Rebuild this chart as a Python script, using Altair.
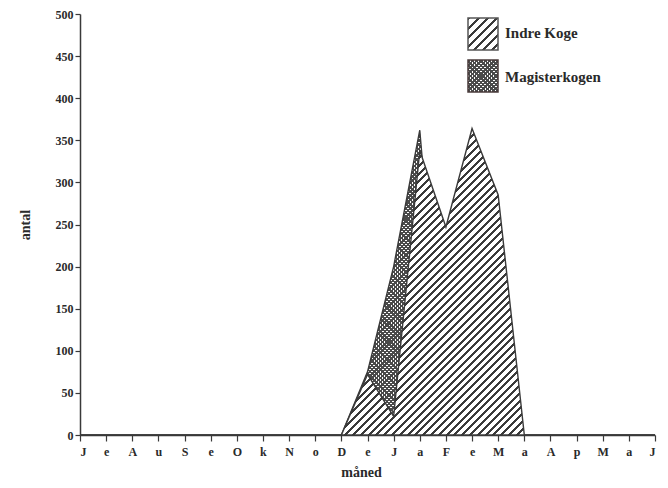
import altair as alt
import pandas as pd

# ---- data ----
month_labels = ["J", "e", "A", "u", "S", "e", "O", "k", "N", "o", "D", "e",
                "J", "a", "F", "e", "M", "a", "A", "p", "M", "a", "J"]
series_names = ["Indre Koge", "Magisterkogen"]
indre_koge = [0, 0, 0, 0, 0, 0, 0, 0, 0, 0, 0, 72, 22, 338, 247, 364, 285, 0, 0, 0, 0, 0, 0]
magisterkogen = [0, 0, 0, 0, 0, 0, 0, 0, 0, 0, 0, 75, 200, 362, 0, 0, 0, 0, 0, 0, 0, 0, 0]
y_ticks = list(range(0, 501, 50))

PLOT_W, PLOT_H = 575, 421
FONT = "Liberation Serif"
INK = "#3a3a3a"

df = pd.DataFrame({
    "idx": list(range(len(month_labels))) * 2,
    "antal": indre_koge + magisterkogen,
    "serie": [series_names[0]] * len(month_labels) + [series_names[1]] * len(month_labels),
})


def stripes(n, frac, dark, light, x1, y1, x2, y2):
    stops = []
    for i in range(n):
        a = i / n
        b = (i + frac) / n
        c = (i + 1) / n
        stops += [alt.GradientStop(offset=a, color=dark),
                  alt.GradientStop(offset=b, color=dark),
                  alt.GradientStop(offset=b, color=light),
                  alt.GradientStop(offset=c, color=light)]
    return alt.LinearGradient(gradient="linear", stops=stops, x1=x1, y1=y1, x2=x2, y2=y2)


def hatch(w, h, period, frac, dark, light, direction="/", s=1.1):
    r = h / w
    span = s * w * (1 + r * r) / 2 ** 0.5
    n = max(1, round(span / period))
    if direction == "/":
        return stripes(n, frac, dark, light, 0, 0, s, s * r)
    return stripes(n, frac, dark, light, 0, 1, s, 1 - s * r)


h_indre = max(indre_koge) * PLOT_H / 500
h_mag = max(magisterkogen) * PLOT_H / 500

x_enc = alt.X("idx:Q",
              scale=alt.Scale(domain=[0, len(month_labels) - 1], nice=False, zero=False),
              axis=alt.Axis(values=list(range(len(month_labels))),
                            labelExpr=str(month_labels) + "[datum.value]",
                            title="måned", titlePadding=8, titleX=281,
                            labelPadding=5, tickSize=6))
y_enc = alt.Y("antal:Q", stack=None,
              scale=alt.Scale(domain=[0, 500], nice=False),
              axis=alt.Axis(values=y_ticks, title="antal", titlePadding=23,
                            labelPadding=2, tickSize=5))

base = alt.Chart(df).encode(x=x_enc, y=y_enc)

mag_a = base.transform_filter(alt.datum.serie == series_names[1]).mark_area(
    fill=hatch(PLOT_W, h_mag, 3.0, 0.55, "#4a4a4a", "#ffffff", "/"))
mag_b = base.transform_filter(alt.datum.serie == series_names[1]).mark_area(
    fill=hatch(PLOT_W, h_mag, 3.0, 0.55, "#4a4a4a", "rgba(0,0,0,0)", "\\"),
    stroke=INK, strokeWidth=1.4)
indre = base.transform_filter(alt.datum.serie == series_names[0]).mark_area(
    fill=hatch(PLOT_W, h_indre, 5.5, 0.38, INK, "#ffffff", "/"),
    stroke=INK, strokeWidth=1.4)

# manual legend (swatches + labels)
leg1 = pd.DataFrame({"name": [series_names[0]]})
leg2 = pd.DataFrame({"name": [series_names[1]]})
SW, SH = 30, 32
sw1 = alt.Chart(leg1).mark_rect(
    fill=hatch(SW, SH, 6.5, 0.32, INK, "#ffffff", "/", s=1.0),
    stroke="#555555", strokeWidth=1.5).encode(
    x=alt.value(388), x2=alt.value(388 + SW), y=alt.value(4), y2=alt.value(4 + SH))
sw2a = alt.Chart(leg2).mark_rect(
    fill=hatch(SW, SH, 3.0, 0.55, "#4a4a4a", "#ffffff", "/", s=1.0)).encode(
    x=alt.value(388), x2=alt.value(388 + SW), y=alt.value(46), y2=alt.value(46 + SH))
sw2b = alt.Chart(leg2).mark_rect(
    fill=hatch(SW, SH, 3.0, 0.55, "#4a4a4a", "rgba(0,0,0,0)", "\\", s=1.0),
    stroke="#4a3b3b", strokeWidth=1.5).encode(
    x=alt.value(388), x2=alt.value(388 + SW), y=alt.value(46), y2=alt.value(46 + SH))
tx1 = alt.Chart(leg1).mark_text(align="left", baseline="alphabetic", font=FONT,
                                fontWeight="bold", fontSize=15, color="#2a2a2a").encode(
    x=alt.value(425), y=alt.value(24), text="name:N")
tx2 = alt.Chart(leg2).mark_text(align="left", baseline="alphabetic", font=FONT,
                                fontWeight="bold", fontSize=15, color="#2a2a2a").encode(
    x=alt.value(425), y=alt.value(68), text="name:N")

chart = alt.layer(mag_a, mag_b, indre, sw1, sw2a, sw2b, tx1, tx2).properties(
    width=PLOT_W, height=PLOT_H,
    autosize=alt.AutoSizeParams(type="none"),
    padding={"left": 72, "top": 6, "right": 5, "bottom": 45},
    background="white",
).configure_view(stroke=None).configure_axis(
    grid=False, domainColor=INK, domainWidth=1.5, tickColor=INK, tickWidth=1.2,
    labelFont=FONT, labelFontWeight="bold", labelFontSize=12, labelColor="#2a2a2a",
    titleFont=FONT, titleFontWeight="bold", titleFontSize=14, titleColor="#2a2a2a",
)

chart.save("out.html", embed_options={"renderer": "svg", "actions": False})
